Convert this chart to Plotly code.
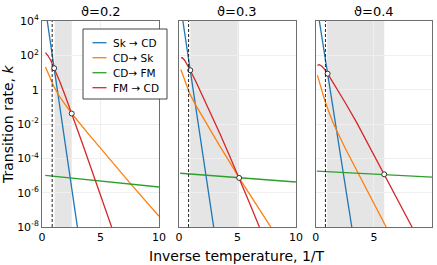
import plotly.graph_objects as go

panel_titles = ["ϑ=0.2", "ϑ=0.3", "ϑ=0.4"]
series_names = ["Sk → CD", "CD→ Sk", "CD→ FM", "FM → CD"]
series_colors = ["#1f77b4", "#ff7f0e", "#2ca02c", "#d62728"]

# Sk -> CD (blue)
sk_cd_x = [[0.3, 1.04, 3.2], [0.25, 0.97, 3.1], [0.25, 1.02, 3.2]]
sk_cd_log = [[4.70, 1.25, -8.82], [4.41, 1.13, -8.58], [4.24, 0.93, -8.44]]

# CD -> Sk (orange)
cd_sk_x = [[0.3, 0.5, 0.75, 1.0, 1.5, 2.0, 2.54, 4.0, 6.0, 7.6, 10],
           [0.17, 0.4, 0.65, 0.92, 1.5, 2.5, 3.5, 4.3, 5.15, 6.5, 7.85, 8.2],
           [0.14, 0.4, 0.7, 1.0, 1.52, 2.5, 3.68, 5.0, 6.06, 6.4]]
cd_sk_log = [[1.32, 0.98, 0.58, 0.20, -0.40, -0.88, -1.39, -2.60, -4.22, -5.5, -7.38],
             [1.17, 0.72, 0.27, -0.23, -0.97, -2.15, -3.29, -4.18, -5.14, -6.57, -8.0, -8.37],
             [0.85, 0.22, -0.46, -1.07, -1.98, -3.37, -4.89, -6.62, -8.0, -8.45]]

# CD -> FM (green)
cd_fm_x = [[0.28, 10], [0.11, 10], [0.09, 10]]
cd_fm_log = [[-4.99, -5.67], [-4.87, -5.38], [-4.74, -5.09]]

# FM -> CD (red)
fm_cd_x = [[0.3, 0.5, 0.75, 1.04, 1.5, 2.0, 2.54, 3.5, 4.5, 5.96, 6.5],
           [0.17, 0.3, 0.5, 0.75, 0.97, 1.5, 2.5, 3.5, 4.3, 5.15, 6.0, 6.88, 7.2],
           [0.14, 0.3, 0.5, 0.75, 1.02, 1.5, 2.5, 3.5, 4.5, 5.89, 7.0, 8.28, 8.6]]
fm_cd_log = [[2.16, 1.99, 1.70, 1.25, 0.50, -0.38, -1.38, -3.22, -5.17, -8.02, -9.07],
             [1.85, 1.86, 1.70, 1.42, 1.13, 0.40, -1.05, -2.55, -3.80, -5.14, -6.54, -8.0, -8.53],
             [1.42, 1.46, 1.38, 1.20, 0.93, 0.42, -0.72, -1.89, -3.15, -4.93, -6.35, -8.0, -8.42]]

# crossing points (open circles)
cross_x = [[1.04, 2.54], [0.97, 5.15], [1.02, 5.89]]
cross_log = [[1.25, -1.39], [1.13, -5.14], [0.93, -4.93]]

dashed_x = [0.87, 0.83, 0.83]
shade_start = [1.08, 0.97, 0.98]
shade_end = [2.54, 5.13, 5.89]

y_tickvals_exp = [4, 2, 0, -2, -4, -6, -8]
y_ticktext = ["10<sup>4</sup>", "10<sup>2</sup>", "1", "10<sup>-2</sup>",
              "10<sup>-4</sup>", "10<sup>-6</sup>", "10<sup>-8</sup>"]
x_tickvals = [0, 5, 10]

W, H = 437, 265
ML, MR, MT, MB = 42, 5, 21, 38
PW, PH = W - ML - MR, H - MT - MB
domains = [[0.0, 0.3], [0.351, 0.651], [0.702, 1.0]]
FONT = "DejaVu Sans"


def px_x(px):
    return (px - ML) / PW


def px_y(py):
    return 1 - (py - MT) / PH


fig = go.Figure()
all_x = [sk_cd_x, cd_sk_x, cd_fm_x, fm_cd_x]
all_log = [sk_cd_log, cd_sk_log, cd_fm_log, fm_cd_log]

for p in range(3):
    xa = "x" if p == 0 else f"x{p+1}"
    ya = "y" if p == 0 else f"y{p+1}"
    for s in range(4):
        fig.add_trace(go.Scatter(
            x=all_x[s][p], y=[10 ** v for v in all_log[s][p]],
            mode="lines", line=dict(color=series_colors[s], width=1.3),
            name=series_names[s], showlegend=False,
            xaxis=xa, yaxis=ya, hoverinfo="skip"))
    fig.add_trace(go.Scatter(
        x=cross_x[p], y=[10 ** v for v in cross_log[p]], mode="markers",
        marker=dict(size=5, color="white", line=dict(color="#333333", width=1)),
        showlegend=False, xaxis=xa, yaxis=ya, hoverinfo="skip"))
    yref = ya + " domain"
    fig.add_shape(type="rect", xref=xa, yref=yref, x0=shade_start[p], x1=shade_end[p],
                  y0=0, y1=1, fillcolor="#e5e5e5", line=dict(width=0), layer="below")
    fig.add_shape(type="line", xref=xa, yref=yref, x0=dashed_x[p], x1=dashed_x[p],
                  y0=0, y1=1, line=dict(color="#222222", width=1, dash="3px,2px"),
                  layer="above")
    fig.add_annotation(text=panel_titles[p], xref="paper", yref="paper",
                       x=(domains[p][0] + domains[p][1]) / 2, y=1.0, yshift=0,
                       xanchor="center", yanchor="bottom", showarrow=False,
                       font=dict(family=FONT, size=13, color="black"))

# legend drawn in panel 1 (box, line samples, labels)
leg_x0, leg_x1, leg_y0, leg_y1 = 83, 167, 29, 99
fig.add_shape(type="rect", xref="paper", yref="paper",
              x0=px_x(leg_x0), x1=px_x(leg_x1), y0=px_y(leg_y1), y1=px_y(leg_y0),
              fillcolor="white", line=dict(color="#444444", width=1), layer="above")
for s in range(4):
    row_y = 42.7 + 15 * s
    fig.add_shape(type="line", xref="paper", yref="paper",
                  x0=px_x(92.5), x1=px_x(106.5), y0=px_y(row_y), y1=px_y(row_y),
                  line=dict(color=series_colors[s], width=1.3), layer="above")
    fig.add_annotation(text=series_names[s], xref="paper", yref="paper",
                       x=px_x(110.5), y=px_y(row_y), xanchor="left", yanchor="middle",
                       showarrow=False, font=dict(family=FONT, size=10.5, color="black"))

axis_common = dict(showline=True, linecolor="#6e6e6e", linewidth=1, mirror=True,
                   showgrid=True, gridcolor="#efefef", gridwidth=1, zeroline=False,
                   automargin=False,
                   ticks="", tickfont=dict(family=FONT, size=11, color="black"))
layout = dict(
    width=W, height=H,
    margin=dict(l=ML, r=MR, t=MT, b=MB),
    paper_bgcolor="white", plot_bgcolor="white",
    font=dict(family=FONT, size=11, color="black"),
    showlegend=False,
)
for p in range(3):
    xk = "xaxis" if p == 0 else f"xaxis{p+1}"
    yk = "yaxis" if p == 0 else f"yaxis{p+1}"
    layout[xk] = dict(domain=domains[p], range=[0, 10], tickvals=x_tickvals,
                      anchor="y" if p == 0 else f"y{p+1}", **axis_common)
    layout[yk] = dict(type="log", range=[-8, 4], tickvals=[10 ** e for e in y_tickvals_exp],
                      ticktext=y_ticktext, showticklabels=(p == 0),
                      anchor="x" if p == 0 else f"x{p+1}", **axis_common)
fig.update_layout(**layout)

fig.add_annotation(text="Transition rate, <i>k</i>", xref="paper", yref="paper",
                   x=0, y=0.5, xshift=-34, textangle=-90, showarrow=False,
                   xanchor="center", yanchor="middle",
                   font=dict(family=FONT, size=14, color="black"))
fig.add_annotation(text="Inverse temperature, 1/T", xref="paper", yref="paper",
                   x=0.5, y=0, yshift=-19, showarrow=False,
                   xanchor="center", yanchor="top",
                   font=dict(family=FONT, size=14, color="black"))

fig.write_html("out.html", config={"displayModeBar": False},
               post_script="document.body.style.margin='0px';")
